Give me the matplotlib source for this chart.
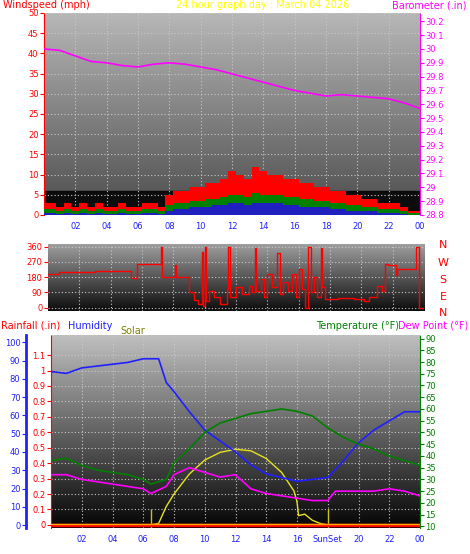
import numpy as np
import matplotlib
matplotlib.use("Agg")
import matplotlib.pyplot as plt

# ---------------- data ----------------
baro_hours = [0, 1, 2, 3, 4, 5, 6, 7, 8, 9, 10, 11, 12, 13, 14, 15, 16, 17, 18, 19, 20, 21, 22, 23, 24]
baro_vals = [30.00, 29.99, 29.95, 29.91, 29.90, 29.88, 29.87, 29.89, 29.90, 29.89, 29.87, 29.85,
             29.82, 29.79, 29.76, 29.73, 29.70, 29.68, 29.66, 29.67, 29.66, 29.65, 29.64, 29.61, 29.57]

wind_hours = [h * 0.5 for h in range(49)]
gust_vals = [3, 3, 2, 3, 2, 3, 2, 3, 2, 2, 3, 2, 2, 3, 3, 2, 5, 6, 6, 7, 7, 8, 8, 9, 11, 10, 9, 12, 11, 10,
             10, 9, 9, 8, 8, 7, 7, 6, 6, 5, 5, 4, 4, 3, 3, 3, 2, 1, 1]
avg_vals = [1.5, 1.5, 1, 1.5, 1, 1.5, 1, 1.5, 1, 1, 1.5, 1, 1, 1.5, 1.5, 1, 2.5, 3, 3, 3.5, 3.5, 4, 4, 4.5,
            5, 5, 4.5, 5.5, 5, 5, 5, 4.5, 4.5, 4, 4, 3.5, 3.5, 3, 3, 2.5, 2.5, 2, 2, 1.5, 1.5, 1.5, 1, 0.5, 0.5]
low_vals = [0.5, 0.5, 0.3, 0.5, 0.3, 0.5, 0.3, 0.5, 0.3, 0.3, 0.5, 0.3, 0.3, 0.5, 0.5, 0.3, 1, 1.5, 1.5, 2,
            2, 2, 2.5, 2.5, 3, 3, 2.5, 3, 3, 3, 3, 2.5, 2.5, 2, 2, 2, 2, 1.5, 1.5, 1, 1, 1, 1, 0.5, 0.5, 0.5, 0.3, 0, 0]

dir_hours = [0, 0.6, 0.7, 2.9, 3.0, 5.2, 5.3, 5.6, 5.7, 7.1, 7.2, 7.3, 8.0, 8.1, 8.2, 8.8, 9.0, 9.3, 9.6,
             9.8, 9.9, 10.0, 10.1, 10.3, 10.6, 11.0, 11.4, 11.5, 11.6, 12.0, 12.4, 12.8, 13.0, 13.2, 13.3,
             13.6, 13.8, 14.0, 14.3, 14.6, 14.8, 15.0, 15.3, 15.6, 15.8, 16.0, 16.2, 16.4, 16.6, 16.8, 17.0,
             17.2, 17.4, 17.5, 17.7, 18.5, 19.5, 20.2, 20.5, 21.0, 21.3, 21.5, 21.7, 22.2, 22.3, 22.5, 23.4,
             23.5, 23.7, 24.0]
dir_vals = [200, 200, 210, 210, 215, 215, 175, 175, 260, 260, 360, 180, 180, 250, 180, 180, 90, 45, 20,
            330, 10, 360, 40, 100, 60, 20, 110, 355, 60, 120, 80, 130, 90, 350, 100, 170, 60, 200, 120, 320,
            80, 150, 100, 200, 60, 230, 110, 0, 360, 90, 180, 60, 350, 120, 50, 55, 50, 40, 60, 130, 100,
            260, 250, 195, 225, 225, 225, 360, 0, 0]

hum_hours = [0, 1, 2, 3, 4, 5, 6, 7, 7.5, 8, 9, 10, 11, 12, 13, 14, 15, 16, 17, 18, 19, 20, 21, 22, 23, 24]
hum_vals = [84, 83, 86, 87, 88, 89, 91, 91, 78, 73, 62, 52, 46, 40, 33, 28, 26, 24, 25, 26, 35, 45, 52, 57, 62, 62]

temp_hours = [0, 1, 2, 3, 4, 5, 6, 6.5, 7.5, 8, 9, 10, 11, 12, 13, 14, 15, 16, 17, 18, 19, 20, 21, 22, 23, 24]
temp_vals = [38, 39, 36, 34, 33, 32, 30, 28, 30, 37, 43, 50, 54, 56, 58, 59, 60, 59, 57, 52, 48, 45, 43, 40, 38, 36]

dew_hours = [0, 1, 2, 3, 4, 5, 6, 6.5, 7.5, 8, 9, 10, 11, 12, 13, 14, 15, 16, 17, 18, 18.5, 19, 20, 21, 22, 23, 24]
dew_vals = [32, 32, 30, 29, 28, 27, 26, 24, 27, 32, 35, 33, 31, 32, 26, 24, 23, 22, 21, 21, 25, 25, 25, 25, 26, 25, 23]

solar_hours = [0, 6.5, 7.0, 7.5, 8, 9, 10, 11, 12, 13, 14, 15, 15.8, 16.0, 16.1, 16.5, 17, 17.5, 18, 24]
solar_vals = [0, 0, 0.01, 0.12, 0.2, 0.33, 0.42, 0.47, 0.49, 0.48, 0.43, 0.34, 0.22, 0.15, 0.06, 0.07, 0.03, 0.01, 0, 0]

rain_hours = [0, 24]
rain_vals = [0, 0]

xtick_pos = [2, 4, 6, 8, 10, 12, 14, 16, 18, 20, 22, 24]
xtick_top = ["02", "04", "06", "08", "10", "12", "14", "16", "18", "20", "22", "00"]
xtick_bot = ["02", "04", "06", "08", "10", "12", "14", "16", "SunSet", "20", "22", "00"]

# ---------------- figure ----------------
W, H = 470, 554
fig = plt.figure(figsize=(W / 100, H / 100), dpi=100)
fig.patch.set_facecolor("white")


def px_axes(x0, y0, x1, y1):
    return fig.add_axes([x0 / W, 1 - y1 / H, (x1 - x0) / W, (y1 - y0) / H])


def gradient(ax, top, bottom):
    g = np.linspace(top, bottom, 100).reshape(-1, 1)
    ax.imshow(np.dstack([g, g, g]), extent=[0, 1, 0, 1], transform=ax.transAxes,
              aspect="auto", zorder=0)


def grid(ax):
    ax.grid(True, color="#c8c8c8", linestyle=(0, (1, 2)), linewidth=0.8, zorder=1)


blue = "#2020ff"
fs = 6
hfs = 7

# ---------- top panel ----------
ax1 = px_axes(44, 13, 420, 215)
gradient(ax1, 0.72, 0.3)
ax1.axhspan(0, 6, color="black", zorder=0.5, alpha=0.85)
ax1.set_xlim(0, 24)
ax1.set_ylim(0, 50)
ax1.set_yticks(range(0, 51, 5))
ax1.tick_params(axis="y", colors="red", labelsize=fs, length=3, pad=1)
ax1.set_xticks(xtick_pos)
ax1.set_xticklabels(xtick_top)
ax1.tick_params(axis="x", colors=blue, labelsize=fs, length=0, pad=5)
grid(ax1)
ax1.fill_between(wind_hours, gust_vals, step="mid", color="red", zorder=2, lw=0)
ax1.fill_between(wind_hours, avg_vals, step="mid", color="#008000", zorder=3, lw=0)
ax1.fill_between(wind_hours, low_vals, step="mid", color="#2020c0", zorder=4, lw=0)
ax1b = ax1.twinx()
ax1b.set_ylim(28.8, 30.26)
ax1b.set_yticks(np.round(np.arange(28.8, 30.21, 0.1), 1))
ax1b.set_yticklabels([f"{v:g}" for v in np.round(np.arange(28.8, 30.21, 0.1), 1)])
ax1b.tick_params(axis="y", colors="magenta", labelsize=fs, length=3, pad=1)
ax1b.plot(baro_hours, baro_vals, color="magenta", lw=1.2, zorder=5)
for a in (ax1, ax1b):
    for s in a.spines.values():
        s.set_visible(False)
ax1.spines["left"].set_visible(True)
ax1.spines["left"].set_color("red")
ax1.spines["left"].set_linestyle((0, (1, 1)))
ax1b.spines["right"].set_visible(True)
ax1b.spines["right"].set_color("magenta")
ax1b.spines["right"].set_linestyle((0, (1, 1)))

fig.text(3 / W, 1 - 5 / H, "Windspeed (mph)", color="red", fontsize=hfs, va="center")
fig.text(263 / W, 1 - 5 / H, "24 hour graph day : March 04 2026", color="yellow",
         fontsize=hfs, va="center", ha="center")
fig.text(467 / W, 1 - 5 / H, "Barometer (.in)", color="magenta", fontsize=hfs, va="center", ha="right")

# ---------- middle panel ----------
ax2 = px_axes(48, 244, 424, 311)
gradient(ax2, 0.62, 0.05)
ax2.set_xlim(0, 24)
ax2.set_ylim(-20, 375)
ax2.set_yticks([0, 90, 180, 270, 360])
ax2.tick_params(axis="y", colors="red", labelsize=fs, length=3, pad=1)
ax2.set_xticks(xtick_pos)
ax2.tick_params(axis="x", length=0, labelbottom=False)
grid(ax2)
ax2.plot(dir_hours, dir_vals, color="red", lw=1, drawstyle="steps-post", zorder=3)
for s in ax2.spines.values():
    s.set_visible(False)
for lbl, yy in zip(["N", "W", "S", "E", "N"], [245, 263, 280, 297, 313]):
    fig.text(443 / W, 1 - yy / H, lbl, color="red", fontsize=8, va="center", ha="center")

# ---------- bottom panel ----------
ax3 = px_axes(51, 335, 420, 528)
gradient(ax3, 0.75, 0.02)
ax3.set_xlim(0, 24)
ax3.set_ylim(-0.02, 1.23)
ax3.set_yticks([round(0.1 * i, 1) for i in range(12)])
ax3.set_yticklabels(["0"] + [f"{0.1 * i:.1f}" for i in range(1, 10)] + ["1", "1.1"])
ax3.tick_params(axis="y", colors="red", labelsize=fs, length=3, pad=1)
ax3.set_xticks(xtick_pos)
ax3.set_xticklabels(xtick_bot)
ax3.tick_params(axis="x", colors=blue, labelsize=fs, length=0, pad=5)
grid(ax3)
ax3.plot(solar_hours, solar_vals, color="#e8e020", lw=1, zorder=4)
ax3.vlines([6.5, 18.0], -0.02, 0.1, color="#c8c020", lw=1, zorder=4)
ax3.plot(rain_hours, rain_vals, color="red", lw=2.5, zorder=5)
ax3.plot(rain_hours, [0.003, 0.003], color="orange", lw=1, zorder=6)
for s in ax3.spines.values():
    s.set_visible(False)
ax3.spines["left"].set_visible(True)
ax3.spines["left"].set_color("red")
ax3.spines["left"].set_linestyle((0, (1, 1)))

ax3h = ax3.twinx()
ax3h.set_ylim(-1.6, 104)
ax3h.set_yticks(range(0, 101, 10))
ax3h.yaxis.set_ticks_position("left")
ax3h.yaxis.set_label_position("left")
ax3h.spines["left"].set_position(("outward", 18))
ax3h.spines["left"].set_color(blue)
ax3h.spines["left"].set_linewidth(2)
ax3h.tick_params(axis="y", colors=blue, labelsize=fs, length=3, pad=1)
for k in ("right", "top", "bottom"):
    ax3h.spines[k].set_visible(False)
ax3h.plot(hum_hours, hum_vals, color="#2020ff", lw=1.2, zorder=5)

ax3t = ax3.twinx()
ax3t.set_ylim(9.3, 91.5)
ax3t.set_yticks(range(10, 91, 5))
ax3t.tick_params(axis="y", colors="#008000", labelsize=fs, length=3, pad=1)
for k in ("left", "top", "bottom"):
    ax3t.spines[k].set_visible(False)
ax3t.spines["right"].set_color("#008000")
ax3t.spines["right"].set_linestyle((0, (1, 1)))
ax3t.plot(temp_hours, temp_vals, color="#008000", lw=1.2, zorder=5)
ax3t.plot(dew_hours, dew_vals, color="magenta", lw=1.2, zorder=5)

fig.text(1 / W, 1 - 326 / H, "Rainfall (.in)", color="red", fontsize=hfs, va="center")
fig.text(68 / W, 1 - 326 / H, "Humidity", color=blue, fontsize=hfs, va="center")
fig.text(120 / W, 1 - 331 / H, "Solar", color="#808000", fontsize=hfs, va="center")
fig.text(316 / W, 1 - 326 / H, "Temperature (°F)", color="#008000", fontsize=hfs, va="center")
fig.text(468 / W, 1 - 326 / H, "Dew Point (°F)", color="magenta", fontsize=hfs, va="center", ha="right")

fig.savefig("out.png", dpi=100, facecolor="white")
